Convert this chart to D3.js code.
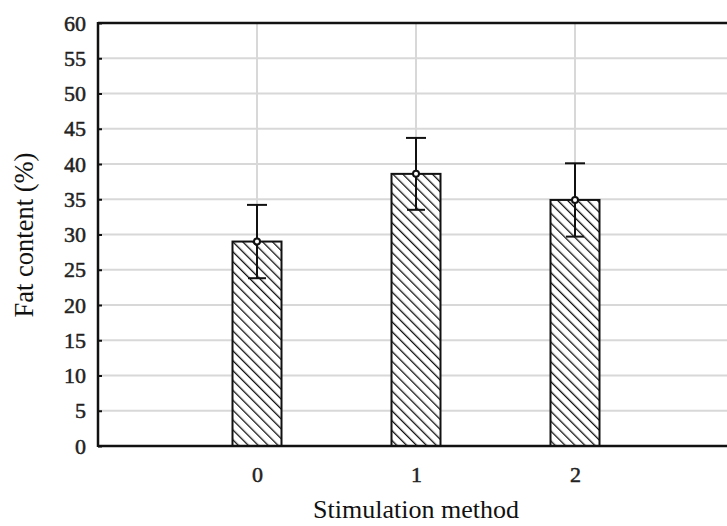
<!DOCTYPE html>
<html>
<head>
<meta charset="utf-8">
<script src="https://cdn.jsdelivr.net/npm/d3@7"></script>
<style>
  body { margin: 0; background: #fff; }
  svg { display: block; }
  text { font-family: "Liberation Serif", "Times New Roman", serif; }
</style>
</head>
<body>
<svg width="727" height="526"></svg>
<script>
// data
var methods = [0, 1, 2];
var fatMean = [29.0, 38.6, 34.9];
var fatErr = [5.2, 5.1, 5.2];
var yTicks = [0, 5, 10, 15, 20, 25, 30, 35, 40, 45, 50, 55, 60];

var svg = d3.select("svg");
var margin = {left: 98, top: 23, right: 734, bottom: 446};

var x = d3.scaleLinear().domain([-1, 3]).range([margin.left, margin.right]);
var y = d3.scaleLinear().domain([0, 60]).range([margin.bottom, margin.top]);

var defs = svg.append("defs");
var pat = defs.append("pattern")
    .attr("id", "hatch")
    .attr("patternUnits", "userSpaceOnUse")
    .attr("width", 7)
    .attr("height", 7)
    .attr("patternTransform", "rotate(-45)");
pat.append("rect").attr("width", 7).attr("height", 7).attr("fill", "#fff");
pat.append("line")
    .attr("x1", 0).attr("y1", 0).attr("x2", 0).attr("y2", 7)
    .attr("stroke", "#111").attr("stroke-width", 2.6);

// grid
var grid = svg.append("g").attr("class", "grid");
grid.selectAll("line.h")
    .data(yTicks.filter(d => d > 0 && d < 60))
    .enter().append("line")
    .attr("class", "h")
    .attr("x1", margin.left).attr("x2", margin.right)
    .attr("y1", d => y(d)).attr("y2", d => y(d))
    .attr("stroke", "#d8d8d8").attr("stroke-width", 2);
grid.selectAll("line.v")
    .data(methods)
    .enter().append("line")
    .attr("class", "v")
    .attr("x1", d => x(d)).attr("x2", d => x(d))
    .attr("y1", margin.top).attr("y2", margin.bottom)
    .attr("stroke", "#d8d8d8").attr("stroke-width", 2);

// y axis
var yAxis = d3.axisLeft(y).tickValues(yTicks).tickSize(-4).tickPadding(12);
var gy = svg.append("g")
    .attr("transform", "translate(" + margin.left + ",0)")
    .call(yAxis);
gy.select(".domain").remove();
gy.selectAll(".tick line").attr("stroke", "#111").attr("stroke-width", 2);
gy.selectAll(".tick text")
    .style("font-size", "22px")
    .style("font-family", "Liberation Serif, serif")
    .attr("fill", "#222")
    .attr("stroke", "#222")
    .attr("stroke-width", 0.5);

// x axis
var xAxis = d3.axisBottom(x).tickValues(methods).tickSize(0).tickPadding(20).tickFormat(d3.format("d"));
var gx = svg.append("g")
    .attr("transform", "translate(0," + margin.bottom + ")")
    .call(xAxis);
gx.select(".domain").remove();
gx.selectAll(".tick text")
    .style("font-size", "22px")
    .style("font-family", "Liberation Serif, serif")
    .attr("fill", "#222")
    .attr("stroke", "#222")
    .attr("stroke-width", 0.5);

// bars
var barW = 49;
svg.append("g").selectAll("rect")
    .data(methods)
    .enter().append("rect")
    .attr("x", (d, i) => x(d) - barW / 2)
    .attr("y", (d, i) => y(fatMean[i]))
    .attr("width", barW)
    .attr("height", (d, i) => y(0) - y(fatMean[i]))
    .attr("fill", "url(#hatch)")
    .attr("stroke", "#111")
    .attr("stroke-width", 2);

// error bars
var eb = svg.append("g").selectAll("g")
    .data(methods)
    .enter().append("g");
eb.append("line")
    .attr("x1", d => x(d)).attr("x2", d => x(d))
    .attr("y1", (d, i) => y(fatMean[i] + fatErr[i]))
    .attr("y2", (d, i) => y(fatMean[i] - fatErr[i]))
    .attr("stroke", "#111").attr("stroke-width", 2);
eb.append("line")
    .attr("x1", d => x(d) - 10).attr("x2", d => x(d) + 10)
    .attr("y1", (d, i) => y(fatMean[i] + fatErr[i]))
    .attr("y2", (d, i) => y(fatMean[i] + fatErr[i]))
    .attr("stroke", "#111").attr("stroke-width", 2);
eb.append("line")
    .attr("x1", d => x(d) - 9).attr("x2", d => x(d) + 9)
    .attr("y1", (d, i) => y(fatMean[i] - fatErr[i]))
    .attr("y2", (d, i) => y(fatMean[i] - fatErr[i]))
    .attr("stroke", "#111").attr("stroke-width", 2);
eb.append("circle")
    .attr("cx", d => x(d))
    .attr("cy", (d, i) => y(fatMean[i]))
    .attr("r", 3)
    .attr("fill", "#fff")
    .attr("stroke", "#111")
    .attr("stroke-width", 2);

// frame
svg.append("line")
    .attr("x1", margin.left).attr("x2", margin.right)
    .attr("y1", margin.top).attr("y2", margin.top)
    .attr("stroke", "#111").attr("stroke-width", 2.5);
svg.append("line")
    .attr("x1", margin.left).attr("x2", margin.right)
    .attr("y1", margin.bottom).attr("y2", margin.bottom)
    .attr("stroke", "#111").attr("stroke-width", 2.5);
svg.append("line")
    .attr("x1", margin.left).attr("x2", margin.left)
    .attr("y1", margin.top - 1).attr("y2", margin.bottom + 1)
    .attr("stroke", "#111").attr("stroke-width", 2.5);

// axis titles
svg.append("text")
    .attr("x", 416)
    .attr("y", 518)
    .attr("text-anchor", "middle")
    .attr("font-size", 26)
    .attr("fill", "#111")
    .text("Stimulation method");
svg.append("text")
    .attr("transform", "translate(33,235) rotate(-90)")
    .attr("text-anchor", "middle")
    .attr("font-size", 26.5)
    .attr("fill", "#111")
    .text("Fat content (%)");
</script>
</body>
</html>
